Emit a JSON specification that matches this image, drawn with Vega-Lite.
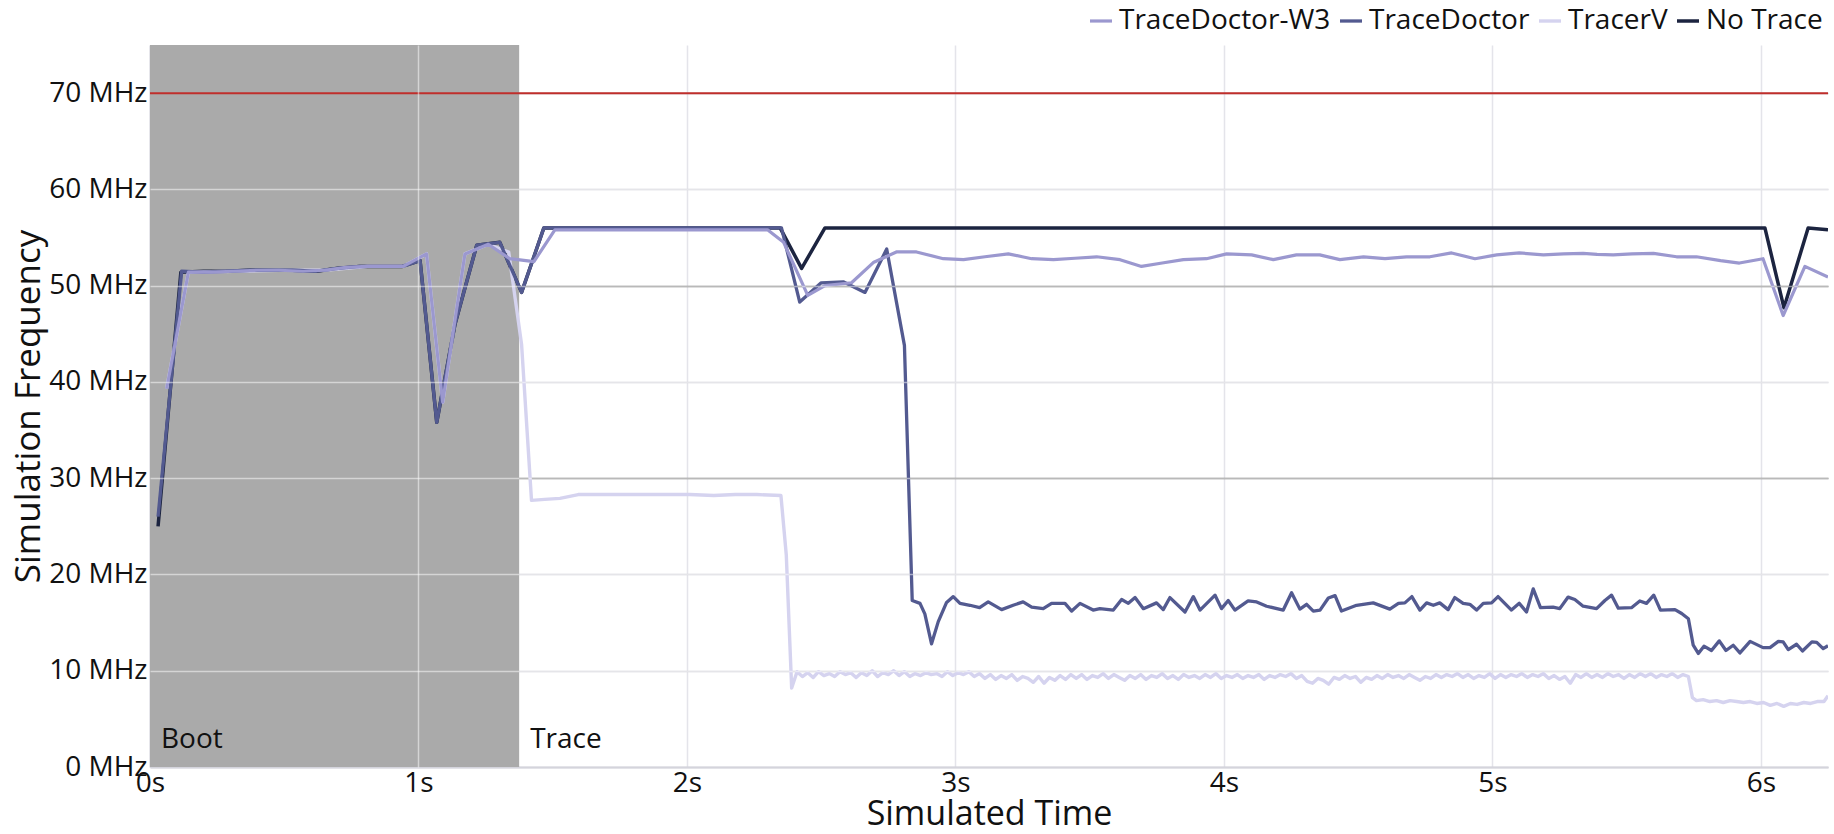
{
  "$schema": "https://vega.github.io/schema/vega-lite/v6.json",
  "width": 1678,
  "height": 722,
  "autosize": {"type": "none"},
  "padding": {"left": 150, "top": 45, "right": 6, "bottom": 67},
  "config": {
    "font": "Open Sans",
    "view": {"stroke": null},
    "axis": {"labelColor": "#111111", "titleColor": "#111111", "titleFontWeight": "normal"}
  },
  "datasets": {
    "phases": [
      {"phase": "Boot", "start": 0, "end": 1.375},
      {"phase": "Trace", "start": 1.375, "end": 6.25}
    ],
    "limit": [{"mhz": 70}],
    "freq": [
      {"series": "No Trace", "time": 0.03, "mhz": 25.0},
      {"series": "No Trace", "time": 0.115, "mhz": 51.4},
      {"series": "No Trace", "time": 0.2, "mhz": 51.5},
      {"series": "No Trace", "time": 0.28, "mhz": 51.5},
      {"series": "No Trace", "time": 0.37, "mhz": 51.6},
      {"series": "No Trace", "time": 0.45, "mhz": 51.6},
      {"series": "No Trace", "time": 0.53, "mhz": 51.6},
      {"series": "No Trace", "time": 0.62, "mhz": 51.5},
      {"series": "No Trace", "time": 0.70, "mhz": 51.8},
      {"series": "No Trace", "time": 0.78, "mhz": 52.0},
      {"series": "No Trace", "time": 0.86, "mhz": 52.0},
      {"series": "No Trace", "time": 0.94, "mhz": 52.0},
      {"series": "No Trace", "time": 1.006, "mhz": 52.6},
      {"series": "No Trace", "time": 1.068, "mhz": 35.8},
      {"series": "No Trace", "time": 1.136, "mhz": 46.0},
      {"series": "No Trace", "time": 1.217, "mhz": 54.2},
      {"series": "No Trace", "time": 1.303, "mhz": 54.5},
      {"series": "No Trace", "time": 1.384, "mhz": 49.3},
      {"series": "No Trace", "time": 1.467, "mhz": 56.0},
      {"series": "No Trace", "time": 1.55, "mhz": 56.0},
      {"series": "No Trace", "time": 1.72, "mhz": 56.0},
      {"series": "No Trace", "time": 1.97, "mhz": 56.0},
      {"series": "No Trace", "time": 2.22, "mhz": 56.0},
      {"series": "No Trace", "time": 2.347, "mhz": 56.0},
      {"series": "No Trace", "time": 2.427, "mhz": 51.8},
      {"series": "No Trace", "time": 2.514, "mhz": 56.0},
      {"series": "No Trace", "time": 2.9, "mhz": 56.0},
      {"series": "No Trace", "time": 3.3, "mhz": 56.0},
      {"series": "No Trace", "time": 3.7, "mhz": 56.0},
      {"series": "No Trace", "time": 4.1, "mhz": 56.0},
      {"series": "No Trace", "time": 4.5, "mhz": 56.0},
      {"series": "No Trace", "time": 4.9, "mhz": 56.0},
      {"series": "No Trace", "time": 5.3, "mhz": 56.0},
      {"series": "No Trace", "time": 5.7, "mhz": 56.0},
      {"series": "No Trace", "time": 6.015, "mhz": 56.0},
      {"series": "No Trace", "time": 6.086, "mhz": 47.7},
      {"series": "No Trace", "time": 6.176, "mhz": 56.0},
      {"series": "No Trace", "time": 6.25, "mhz": 55.8},

      {"series": "TracerV", "time": 0.062, "mhz": 39.3},
      {"series": "TracerV", "time": 0.143, "mhz": 51.4},
      {"series": "TracerV", "time": 0.31, "mhz": 51.5},
      {"series": "TracerV", "time": 0.48, "mhz": 51.6},
      {"series": "TracerV", "time": 0.65, "mhz": 51.6},
      {"series": "TracerV", "time": 0.81, "mhz": 52.0},
      {"series": "TracerV", "time": 0.943, "mhz": 52.0},
      {"series": "TracerV", "time": 1.03, "mhz": 53.3},
      {"series": "TracerV", "time": 1.09, "mhz": 37.9},
      {"series": "TracerV", "time": 1.173, "mhz": 53.3},
      {"series": "TracerV", "time": 1.26, "mhz": 54.3},
      {"series": "TracerV", "time": 1.336, "mhz": 53.5},
      {"series": "TracerV", "time": 1.384, "mhz": 43.9},
      {"series": "TracerV", "time": 1.421, "mhz": 27.7},
      {"series": "TracerV", "time": 1.47, "mhz": 27.8},
      {"series": "TracerV", "time": 1.527, "mhz": 27.9},
      {"series": "TracerV", "time": 1.595, "mhz": 28.3},
      {"series": "TracerV", "time": 1.68, "mhz": 28.3},
      {"series": "TracerV", "time": 1.76, "mhz": 28.3},
      {"series": "TracerV", "time": 1.85, "mhz": 28.3},
      {"series": "TracerV", "time": 1.93, "mhz": 28.3},
      {"series": "TracerV", "time": 2.01, "mhz": 28.3},
      {"series": "TracerV", "time": 2.10, "mhz": 28.2},
      {"series": "TracerV", "time": 2.18, "mhz": 28.3},
      {"series": "TracerV", "time": 2.26, "mhz": 28.3},
      {"series": "TracerV", "time": 2.35, "mhz": 28.2},
      {"series": "TracerV", "time": 2.37, "mhz": 22.0},
      {"series": "TracerV", "time": 2.39, "mhz": 8.2},
      {"series": "TracerV", "time": 2.41, "mhz": 9.9},
      {"series": "TracerV", "time": 2.43, "mhz": 9.4},
      {"series": "TracerV", "time": 2.45, "mhz": 9.8},
      {"series": "TracerV", "time": 2.47, "mhz": 9.3},
      {"series": "TracerV", "time": 2.49, "mhz": 9.9},
      {"series": "TracerV", "time": 2.51, "mhz": 9.5},
      {"series": "TracerV", "time": 2.53, "mhz": 9.7},
      {"series": "TracerV", "time": 2.55, "mhz": 9.4},
      {"series": "TracerV", "time": 2.57, "mhz": 9.9},
      {"series": "TracerV", "time": 2.59, "mhz": 9.6},
      {"series": "TracerV", "time": 2.61, "mhz": 9.8},
      {"series": "TracerV", "time": 2.63, "mhz": 9.3},
      {"series": "TracerV", "time": 2.65, "mhz": 9.8},
      {"series": "TracerV", "time": 2.67, "mhz": 9.5},
      {"series": "TracerV", "time": 2.69, "mhz": 10.0},
      {"series": "TracerV", "time": 2.71, "mhz": 9.4},
      {"series": "TracerV", "time": 2.73, "mhz": 9.8},
      {"series": "TracerV", "time": 2.75, "mhz": 9.6},
      {"series": "TracerV", "time": 2.77, "mhz": 10.0},
      {"series": "TracerV", "time": 2.79, "mhz": 9.5},
      {"series": "TracerV", "time": 2.81, "mhz": 9.9},
      {"series": "TracerV", "time": 2.83, "mhz": 9.4},
      {"series": "TracerV", "time": 2.85, "mhz": 9.7},
      {"series": "TracerV", "time": 2.87, "mhz": 9.5},
      {"series": "TracerV", "time": 2.89, "mhz": 9.8},
      {"series": "TracerV", "time": 2.91, "mhz": 9.6},
      {"series": "TracerV", "time": 2.93, "mhz": 9.7},
      {"series": "TracerV", "time": 2.95, "mhz": 9.4},
      {"series": "TracerV", "time": 2.97, "mhz": 9.9},
      {"series": "TracerV", "time": 2.99, "mhz": 9.5},
      {"series": "TracerV", "time": 3.01, "mhz": 9.8},
      {"series": "TracerV", "time": 3.03, "mhz": 9.6},
      {"series": "TracerV", "time": 3.05, "mhz": 9.9},
      {"series": "TracerV", "time": 3.07, "mhz": 9.4},
      {"series": "TracerV", "time": 3.09, "mhz": 9.7},
      {"series": "TracerV", "time": 3.11, "mhz": 9.2},
      {"series": "TracerV", "time": 3.13, "mhz": 9.6},
      {"series": "TracerV", "time": 3.15, "mhz": 9.1},
      {"series": "TracerV", "time": 3.17, "mhz": 9.5},
      {"series": "TracerV", "time": 3.19, "mhz": 9.2},
      {"series": "TracerV", "time": 3.21, "mhz": 9.6},
      {"series": "TracerV", "time": 3.23, "mhz": 9.0},
      {"series": "TracerV", "time": 3.25, "mhz": 9.4},
      {"series": "TracerV", "time": 3.27, "mhz": 9.2},
      {"series": "TracerV", "time": 3.29, "mhz": 8.8},
      {"series": "TracerV", "time": 3.31, "mhz": 9.4},
      {"series": "TracerV", "time": 3.33, "mhz": 8.7},
      {"series": "TracerV", "time": 3.35, "mhz": 9.3},
      {"series": "TracerV", "time": 3.37, "mhz": 9.0},
      {"series": "TracerV", "time": 3.39, "mhz": 9.5},
      {"series": "TracerV", "time": 3.41, "mhz": 9.1},
      {"series": "TracerV", "time": 3.43, "mhz": 9.6},
      {"series": "TracerV", "time": 3.45, "mhz": 9.2},
      {"series": "TracerV", "time": 3.47, "mhz": 9.6},
      {"series": "TracerV", "time": 3.49, "mhz": 9.1},
      {"series": "TracerV", "time": 3.51, "mhz": 9.5},
      {"series": "TracerV", "time": 3.53, "mhz": 9.3},
      {"series": "TracerV", "time": 3.55, "mhz": 9.7},
      {"series": "TracerV", "time": 3.57, "mhz": 9.2},
      {"series": "TracerV", "time": 3.59, "mhz": 9.6},
      {"series": "TracerV", "time": 3.61, "mhz": 9.3},
      {"series": "TracerV", "time": 3.63, "mhz": 9.0},
      {"series": "TracerV", "time": 3.65, "mhz": 9.5},
      {"series": "TracerV", "time": 3.67, "mhz": 9.2},
      {"series": "TracerV", "time": 3.69, "mhz": 9.6},
      {"series": "TracerV", "time": 3.71, "mhz": 9.1},
      {"series": "TracerV", "time": 3.73, "mhz": 9.5},
      {"series": "TracerV", "time": 3.75, "mhz": 9.3},
      {"series": "TracerV", "time": 3.77, "mhz": 9.7},
      {"series": "TracerV", "time": 3.79, "mhz": 9.2},
      {"series": "TracerV", "time": 3.81, "mhz": 9.5},
      {"series": "TracerV", "time": 3.83, "mhz": 9.1},
      {"series": "TracerV", "time": 3.85, "mhz": 9.6},
      {"series": "TracerV", "time": 3.87, "mhz": 9.3},
      {"series": "TracerV", "time": 3.89, "mhz": 9.5},
      {"series": "TracerV", "time": 3.91, "mhz": 9.2},
      {"series": "TracerV", "time": 3.93, "mhz": 9.6},
      {"series": "TracerV", "time": 3.95, "mhz": 9.3},
      {"series": "TracerV", "time": 3.97, "mhz": 9.7},
      {"series": "TracerV", "time": 3.99, "mhz": 9.2},
      {"series": "TracerV", "time": 4.01, "mhz": 9.5},
      {"series": "TracerV", "time": 4.03, "mhz": 9.3},
      {"series": "TracerV", "time": 4.05, "mhz": 9.6},
      {"series": "TracerV", "time": 4.07, "mhz": 9.2},
      {"series": "TracerV", "time": 4.09, "mhz": 9.5},
      {"series": "TracerV", "time": 4.11, "mhz": 9.3},
      {"series": "TracerV", "time": 4.13, "mhz": 9.6},
      {"series": "TracerV", "time": 4.15, "mhz": 9.1},
      {"series": "TracerV", "time": 4.17, "mhz": 9.5},
      {"series": "TracerV", "time": 4.19, "mhz": 9.3},
      {"series": "TracerV", "time": 4.21, "mhz": 9.6},
      {"series": "TracerV", "time": 4.23, "mhz": 9.4},
      {"series": "TracerV", "time": 4.25, "mhz": 9.7},
      {"series": "TracerV", "time": 4.27, "mhz": 9.2},
      {"series": "TracerV", "time": 4.29, "mhz": 9.5},
      {"series": "TracerV", "time": 4.31, "mhz": 8.9},
      {"series": "TracerV", "time": 4.33, "mhz": 8.7},
      {"series": "TracerV", "time": 4.35, "mhz": 9.2},
      {"series": "TracerV", "time": 4.37, "mhz": 9.0},
      {"series": "TracerV", "time": 4.39, "mhz": 8.6},
      {"series": "TracerV", "time": 4.41, "mhz": 9.3},
      {"series": "TracerV", "time": 4.43, "mhz": 9.1},
      {"series": "TracerV", "time": 4.45, "mhz": 9.5},
      {"series": "TracerV", "time": 4.47, "mhz": 9.2},
      {"series": "TracerV", "time": 4.49, "mhz": 9.4},
      {"series": "TracerV", "time": 4.51, "mhz": 8.8},
      {"series": "TracerV", "time": 4.53, "mhz": 9.3},
      {"series": "TracerV", "time": 4.55, "mhz": 9.1},
      {"series": "TracerV", "time": 4.57, "mhz": 9.5},
      {"series": "TracerV", "time": 4.59, "mhz": 9.2},
      {"series": "TracerV", "time": 4.61, "mhz": 9.6},
      {"series": "TracerV", "time": 4.63, "mhz": 9.3},
      {"series": "TracerV", "time": 4.65, "mhz": 9.5},
      {"series": "TracerV", "time": 4.67, "mhz": 9.2},
      {"series": "TracerV", "time": 4.69, "mhz": 9.6},
      {"series": "TracerV", "time": 4.71, "mhz": 9.3},
      {"series": "TracerV", "time": 4.73, "mhz": 9.0},
      {"series": "TracerV", "time": 4.75, "mhz": 9.4},
      {"series": "TracerV", "time": 4.77, "mhz": 9.2},
      {"series": "TracerV", "time": 4.79, "mhz": 9.6},
      {"series": "TracerV", "time": 4.81, "mhz": 9.3},
      {"series": "TracerV", "time": 4.83, "mhz": 9.6},
      {"series": "TracerV", "time": 4.85, "mhz": 9.4},
      {"series": "TracerV", "time": 4.87, "mhz": 9.7},
      {"series": "TracerV", "time": 4.89, "mhz": 9.3},
      {"series": "TracerV", "time": 4.91, "mhz": 9.6},
      {"series": "TracerV", "time": 4.93, "mhz": 9.2},
      {"series": "TracerV", "time": 4.95, "mhz": 9.5},
      {"series": "TracerV", "time": 4.97, "mhz": 9.3},
      {"series": "TracerV", "time": 4.99, "mhz": 9.7},
      {"series": "TracerV", "time": 5.01, "mhz": 9.2},
      {"series": "TracerV", "time": 5.03, "mhz": 9.6},
      {"series": "TracerV", "time": 5.05, "mhz": 9.3},
      {"series": "TracerV", "time": 5.07, "mhz": 9.6},
      {"series": "TracerV", "time": 5.09, "mhz": 9.4},
      {"series": "TracerV", "time": 5.11, "mhz": 9.7},
      {"series": "TracerV", "time": 5.13, "mhz": 9.3},
      {"series": "TracerV", "time": 5.15, "mhz": 9.6},
      {"series": "TracerV", "time": 5.17, "mhz": 9.4},
      {"series": "TracerV", "time": 5.19, "mhz": 9.7},
      {"series": "TracerV", "time": 5.21, "mhz": 9.2},
      {"series": "TracerV", "time": 5.23, "mhz": 9.5},
      {"series": "TracerV", "time": 5.25, "mhz": 9.1},
      {"series": "TracerV", "time": 5.27, "mhz": 9.4},
      {"series": "TracerV", "time": 5.29, "mhz": 8.7},
      {"series": "TracerV", "time": 5.31, "mhz": 9.6},
      {"series": "TracerV", "time": 5.33, "mhz": 9.3},
      {"series": "TracerV", "time": 5.35, "mhz": 9.7},
      {"series": "TracerV", "time": 5.37, "mhz": 9.3},
      {"series": "TracerV", "time": 5.39, "mhz": 9.6},
      {"series": "TracerV", "time": 5.41, "mhz": 9.3},
      {"series": "TracerV", "time": 5.43, "mhz": 9.7},
      {"series": "TracerV", "time": 5.45, "mhz": 9.4},
      {"series": "TracerV", "time": 5.47, "mhz": 9.6},
      {"series": "TracerV", "time": 5.49, "mhz": 9.2},
      {"series": "TracerV", "time": 5.51, "mhz": 9.6},
      {"series": "TracerV", "time": 5.53, "mhz": 9.3},
      {"series": "TracerV", "time": 5.55, "mhz": 9.7},
      {"series": "TracerV", "time": 5.57, "mhz": 9.4},
      {"series": "TracerV", "time": 5.59, "mhz": 9.7},
      {"series": "TracerV", "time": 5.61, "mhz": 9.3},
      {"series": "TracerV", "time": 5.63, "mhz": 9.6},
      {"series": "TracerV", "time": 5.65, "mhz": 9.4},
      {"series": "TracerV", "time": 5.67, "mhz": 9.7},
      {"series": "TracerV", "time": 5.69, "mhz": 9.3},
      {"series": "TracerV", "time": 5.71, "mhz": 9.6},
      {"series": "TracerV", "time": 5.73, "mhz": 9.4},
      {"series": "TracerV", "time": 5.745, "mhz": 7.2},
      {"series": "TracerV", "time": 5.76, "mhz": 6.9},
      {"series": "TracerV", "time": 5.785, "mhz": 7.0},
      {"series": "TracerV", "time": 5.81, "mhz": 6.8},
      {"series": "TracerV", "time": 5.835, "mhz": 6.9},
      {"series": "TracerV", "time": 5.86, "mhz": 6.7},
      {"series": "TracerV", "time": 5.885, "mhz": 6.9},
      {"series": "TracerV", "time": 5.91, "mhz": 6.8},
      {"series": "TracerV", "time": 5.935, "mhz": 6.7},
      {"series": "TracerV", "time": 5.96, "mhz": 6.8},
      {"series": "TracerV", "time": 5.985, "mhz": 6.6},
      {"series": "TracerV", "time": 6.01, "mhz": 6.7},
      {"series": "TracerV", "time": 6.035, "mhz": 6.4},
      {"series": "TracerV", "time": 6.06, "mhz": 6.6},
      {"series": "TracerV", "time": 6.085, "mhz": 6.3},
      {"series": "TracerV", "time": 6.11, "mhz": 6.6},
      {"series": "TracerV", "time": 6.135, "mhz": 6.5},
      {"series": "TracerV", "time": 6.16, "mhz": 6.7},
      {"series": "TracerV", "time": 6.185, "mhz": 6.6},
      {"series": "TracerV", "time": 6.21, "mhz": 6.8},
      {"series": "TracerV", "time": 6.235, "mhz": 6.8},
      {"series": "TracerV", "time": 6.25, "mhz": 7.4},

      {"series": "TraceDoctor", "time": 0.03, "mhz": 26.0},
      {"series": "TraceDoctor", "time": 0.118, "mhz": 51.5},
      {"series": "TraceDoctor", "time": 0.2, "mhz": 51.4},
      {"series": "TraceDoctor", "time": 0.29, "mhz": 51.5},
      {"series": "TraceDoctor", "time": 0.37, "mhz": 51.6},
      {"series": "TraceDoctor", "time": 0.45, "mhz": 51.6},
      {"series": "TraceDoctor", "time": 0.53, "mhz": 51.6},
      {"series": "TraceDoctor", "time": 0.62, "mhz": 51.5},
      {"series": "TraceDoctor", "time": 0.70, "mhz": 51.8},
      {"series": "TraceDoctor", "time": 0.78, "mhz": 52.0},
      {"series": "TraceDoctor", "time": 0.86, "mhz": 52.0},
      {"series": "TraceDoctor", "time": 0.94, "mhz": 52.0},
      {"series": "TraceDoctor", "time": 1.006, "mhz": 52.6},
      {"series": "TraceDoctor", "time": 1.068, "mhz": 35.8},
      {"series": "TraceDoctor", "time": 1.136, "mhz": 46.0},
      {"series": "TraceDoctor", "time": 1.217, "mhz": 54.2},
      {"series": "TraceDoctor", "time": 1.303, "mhz": 54.5},
      {"series": "TraceDoctor", "time": 1.384, "mhz": 49.3},
      {"series": "TraceDoctor", "time": 1.467, "mhz": 56.0},
      {"series": "TraceDoctor", "time": 1.55, "mhz": 56.0},
      {"series": "TraceDoctor", "time": 1.72, "mhz": 56.0},
      {"series": "TraceDoctor", "time": 1.97, "mhz": 56.0},
      {"series": "TraceDoctor", "time": 2.22, "mhz": 56.0},
      {"series": "TraceDoctor", "time": 2.352, "mhz": 56.0},
      {"series": "TraceDoctor", "time": 2.42, "mhz": 48.3},
      {"series": "TraceDoctor", "time": 2.50, "mhz": 50.3},
      {"series": "TraceDoctor", "time": 2.582, "mhz": 50.4},
      {"series": "TraceDoctor", "time": 2.663, "mhz": 49.3},
      {"series": "TraceDoctor", "time": 2.744, "mhz": 53.8},
      {"series": "TraceDoctor", "time": 2.81, "mhz": 43.8},
      {"series": "TraceDoctor", "time": 2.839, "mhz": 17.3},
      {"series": "TraceDoctor", "time": 2.868, "mhz": 17.0},
      {"series": "TraceDoctor", "time": 2.886, "mhz": 15.9},
      {"series": "TraceDoctor", "time": 2.911, "mhz": 12.8},
      {"series": "TraceDoctor", "time": 2.936, "mhz": 15.1},
      {"series": "TraceDoctor", "time": 2.967, "mhz": 17.1},
      {"series": "TraceDoctor", "time": 2.992, "mhz": 17.7},
      {"series": "TraceDoctor", "time": 3.017, "mhz": 17.0},
      {"series": "TraceDoctor", "time": 3.054, "mhz": 16.8},
      {"series": "TraceDoctor", "time": 3.09, "mhz": 16.55},
      {"series": "TraceDoctor", "time": 3.122, "mhz": 17.15},
      {"series": "TraceDoctor", "time": 3.172, "mhz": 16.35},
      {"series": "TraceDoctor", "time": 3.215, "mhz": 16.8},
      {"series": "TraceDoctor", "time": 3.252, "mhz": 17.15},
      {"series": "TraceDoctor", "time": 3.284, "mhz": 16.6},
      {"series": "TraceDoctor", "time": 3.327, "mhz": 16.45},
      {"series": "TraceDoctor", "time": 3.358, "mhz": 17.0},
      {"series": "TraceDoctor", "time": 3.408, "mhz": 17.0},
      {"series": "TraceDoctor", "time": 3.433, "mhz": 16.2},
      {"series": "TraceDoctor", "time": 3.464, "mhz": 17.0},
      {"series": "TraceDoctor", "time": 3.513, "mhz": 16.3},
      {"series": "TraceDoctor", "time": 3.538, "mhz": 16.45},
      {"series": "TraceDoctor", "time": 3.588, "mhz": 16.3},
      {"series": "TraceDoctor", "time": 3.619, "mhz": 17.4},
      {"series": "TraceDoctor", "time": 3.644, "mhz": 17.0},
      {"series": "TraceDoctor", "time": 3.669, "mhz": 17.6},
      {"series": "TraceDoctor", "time": 3.70, "mhz": 16.45},
      {"series": "TraceDoctor", "time": 3.749, "mhz": 17.05},
      {"series": "TraceDoctor", "time": 3.774, "mhz": 16.35},
      {"series": "TraceDoctor", "time": 3.799, "mhz": 17.6},
      {"series": "TraceDoctor", "time": 3.855, "mhz": 16.1},
      {"series": "TraceDoctor", "time": 3.886, "mhz": 17.7},
      {"series": "TraceDoctor", "time": 3.911, "mhz": 16.3},
      {"series": "TraceDoctor", "time": 3.967, "mhz": 17.85},
      {"series": "TraceDoctor", "time": 3.991, "mhz": 16.45},
      {"series": "TraceDoctor", "time": 4.016, "mhz": 17.3},
      {"series": "TraceDoctor", "time": 4.041, "mhz": 16.3},
      {"series": "TraceDoctor", "time": 4.09, "mhz": 17.25},
      {"series": "TraceDoctor", "time": 4.122, "mhz": 17.15},
      {"series": "TraceDoctor", "time": 4.159, "mhz": 16.7},
      {"series": "TraceDoctor", "time": 4.221, "mhz": 16.3},
      {"series": "TraceDoctor", "time": 4.252, "mhz": 18.1},
      {"series": "TraceDoctor", "time": 4.283, "mhz": 16.4},
      {"series": "TraceDoctor", "time": 4.308, "mhz": 16.9},
      {"series": "TraceDoctor", "time": 4.333, "mhz": 16.2},
      {"series": "TraceDoctor", "time": 4.358, "mhz": 16.3},
      {"series": "TraceDoctor", "time": 4.389, "mhz": 17.55},
      {"series": "TraceDoctor", "time": 4.414, "mhz": 17.8},
      {"series": "TraceDoctor", "time": 4.438, "mhz": 16.2},
      {"series": "TraceDoctor", "time": 4.494, "mhz": 16.8},
      {"series": "TraceDoctor", "time": 4.556, "mhz": 17.05},
      {"series": "TraceDoctor", "time": 4.618, "mhz": 16.4},
      {"series": "TraceDoctor", "time": 4.65, "mhz": 17.0},
      {"series": "TraceDoctor", "time": 4.674, "mhz": 17.05},
      {"series": "TraceDoctor", "time": 4.70, "mhz": 17.7},
      {"series": "TraceDoctor", "time": 4.73, "mhz": 16.3},
      {"series": "TraceDoctor", "time": 4.755, "mhz": 17.05},
      {"series": "TraceDoctor", "time": 4.78, "mhz": 16.8},
      {"series": "TraceDoctor", "time": 4.804, "mhz": 17.05},
      {"series": "TraceDoctor", "time": 4.835, "mhz": 16.35},
      {"series": "TraceDoctor", "time": 4.86, "mhz": 17.6},
      {"series": "TraceDoctor", "time": 4.891, "mhz": 17.0},
      {"series": "TraceDoctor", "time": 4.916, "mhz": 16.9},
      {"series": "TraceDoctor", "time": 4.941, "mhz": 16.3},
      {"series": "TraceDoctor", "time": 4.966, "mhz": 17.0},
      {"series": "TraceDoctor", "time": 4.997, "mhz": 17.05},
      {"series": "TraceDoctor", "time": 5.021, "mhz": 17.7},
      {"series": "TraceDoctor", "time": 5.071, "mhz": 16.3},
      {"series": "TraceDoctor", "time": 5.10, "mhz": 17.0},
      {"series": "TraceDoctor", "time": 5.127, "mhz": 16.1},
      {"series": "TraceDoctor", "time": 5.152, "mhz": 18.5},
      {"series": "TraceDoctor", "time": 5.179, "mhz": 16.55},
      {"series": "TraceDoctor", "time": 5.226, "mhz": 16.6},
      {"series": "TraceDoctor", "time": 5.251, "mhz": 16.45},
      {"series": "TraceDoctor", "time": 5.282, "mhz": 17.65},
      {"series": "TraceDoctor", "time": 5.307, "mhz": 17.4},
      {"series": "TraceDoctor", "time": 5.338, "mhz": 16.7},
      {"series": "TraceDoctor", "time": 5.388, "mhz": 16.45},
      {"series": "TraceDoctor", "time": 5.419, "mhz": 17.3},
      {"series": "TraceDoctor", "time": 5.444, "mhz": 17.85},
      {"series": "TraceDoctor", "time": 5.469, "mhz": 16.5},
      {"series": "TraceDoctor", "time": 5.518, "mhz": 16.55},
      {"series": "TraceDoctor", "time": 5.549, "mhz": 17.25},
      {"series": "TraceDoctor", "time": 5.574, "mhz": 17.0},
      {"series": "TraceDoctor", "time": 5.601, "mhz": 17.85},
      {"series": "TraceDoctor", "time": 5.626, "mhz": 16.3},
      {"series": "TraceDoctor", "time": 5.68, "mhz": 16.35},
      {"series": "TraceDoctor", "time": 5.705, "mhz": 15.95},
      {"series": "TraceDoctor", "time": 5.73, "mhz": 15.4},
      {"series": "TraceDoctor", "time": 5.748, "mhz": 12.65},
      {"series": "TraceDoctor", "time": 5.767, "mhz": 11.8},
      {"series": "TraceDoctor", "time": 5.788, "mhz": 12.55},
      {"series": "TraceDoctor", "time": 5.816, "mhz": 12.1},
      {"series": "TraceDoctor", "time": 5.845, "mhz": 13.1},
      {"series": "TraceDoctor", "time": 5.87, "mhz": 12.1},
      {"series": "TraceDoctor", "time": 5.897, "mhz": 12.65},
      {"series": "TraceDoctor", "time": 5.922, "mhz": 11.85},
      {"series": "TraceDoctor", "time": 5.96, "mhz": 13.05},
      {"series": "TraceDoctor", "time": 6.008, "mhz": 12.4},
      {"series": "TraceDoctor", "time": 6.034, "mhz": 12.4},
      {"series": "TraceDoctor", "time": 6.065, "mhz": 13.05},
      {"series": "TraceDoctor", "time": 6.083, "mhz": 13.0},
      {"series": "TraceDoctor", "time": 6.102, "mhz": 12.2},
      {"series": "TraceDoctor", "time": 6.133, "mhz": 12.75},
      {"series": "TraceDoctor", "time": 6.155, "mhz": 12.05},
      {"series": "TraceDoctor", "time": 6.19, "mhz": 13.0},
      {"series": "TraceDoctor", "time": 6.208, "mhz": 12.95},
      {"series": "TraceDoctor", "time": 6.232, "mhz": 12.3},
      {"series": "TraceDoctor", "time": 6.25, "mhz": 12.6},

      {"series": "TraceDoctor-W3", "time": 0.062, "mhz": 39.3},
      {"series": "TraceDoctor-W3", "time": 0.143, "mhz": 51.4},
      {"series": "TraceDoctor-W3", "time": 0.23, "mhz": 51.4},
      {"series": "TraceDoctor-W3", "time": 0.31, "mhz": 51.5},
      {"series": "TraceDoctor-W3", "time": 0.40, "mhz": 51.6},
      {"series": "TraceDoctor-W3", "time": 0.48, "mhz": 51.6},
      {"series": "TraceDoctor-W3", "time": 0.57, "mhz": 51.5},
      {"series": "TraceDoctor-W3", "time": 0.65, "mhz": 51.6},
      {"series": "TraceDoctor-W3", "time": 0.73, "mhz": 51.9},
      {"series": "TraceDoctor-W3", "time": 0.81, "mhz": 52.0},
      {"series": "TraceDoctor-W3", "time": 0.89, "mhz": 52.0},
      {"series": "TraceDoctor-W3", "time": 0.943, "mhz": 52.0},
      {"series": "TraceDoctor-W3", "time": 1.03, "mhz": 53.3},
      {"series": "TraceDoctor-W3", "time": 1.09, "mhz": 37.9},
      {"series": "TraceDoctor-W3", "time": 1.173, "mhz": 53.3},
      {"series": "TraceDoctor-W3", "time": 1.26, "mhz": 54.3},
      {"series": "TraceDoctor-W3", "time": 1.34, "mhz": 52.8},
      {"series": "TraceDoctor-W3", "time": 1.43, "mhz": 52.5},
      {"series": "TraceDoctor-W3", "time": 1.508, "mhz": 55.8},
      {"series": "TraceDoctor-W3", "time": 1.76, "mhz": 55.8},
      {"series": "TraceDoctor-W3", "time": 2.03, "mhz": 55.8},
      {"series": "TraceDoctor-W3", "time": 2.30, "mhz": 55.8},
      {"series": "TraceDoctor-W3", "time": 2.36, "mhz": 54.5},
      {"series": "TraceDoctor-W3", "time": 2.45, "mhz": 49.0},
      {"series": "TraceDoctor-W3", "time": 2.514, "mhz": 50.0},
      {"series": "TraceDoctor-W3", "time": 2.613, "mhz": 50.3},
      {"series": "TraceDoctor-W3", "time": 2.694, "mhz": 52.4},
      {"series": "TraceDoctor-W3", "time": 2.78, "mhz": 53.5},
      {"series": "TraceDoctor-W3", "time": 2.855, "mhz": 53.5},
      {"series": "TraceDoctor-W3", "time": 2.955, "mhz": 52.8},
      {"series": "TraceDoctor-W3", "time": 3.03, "mhz": 52.7},
      {"series": "TraceDoctor-W3", "time": 3.11, "mhz": 53.0},
      {"series": "TraceDoctor-W3", "time": 3.197, "mhz": 53.3},
      {"series": "TraceDoctor-W3", "time": 3.284, "mhz": 52.8},
      {"series": "TraceDoctor-W3", "time": 3.365, "mhz": 52.7},
      {"series": "TraceDoctor-W3", "time": 3.445, "mhz": 52.85},
      {"series": "TraceDoctor-W3", "time": 3.526, "mhz": 53.0},
      {"series": "TraceDoctor-W3", "time": 3.613, "mhz": 52.7},
      {"series": "TraceDoctor-W3", "time": 3.693, "mhz": 52.0},
      {"series": "TraceDoctor-W3", "time": 3.77, "mhz": 52.35},
      {"series": "TraceDoctor-W3", "time": 3.849, "mhz": 52.7},
      {"series": "TraceDoctor-W3", "time": 3.935, "mhz": 52.8},
      {"series": "TraceDoctor-W3", "time": 4.01, "mhz": 53.3},
      {"series": "TraceDoctor-W3", "time": 4.103, "mhz": 53.2},
      {"series": "TraceDoctor-W3", "time": 4.184, "mhz": 52.7},
      {"series": "TraceDoctor-W3", "time": 4.27, "mhz": 53.2},
      {"series": "TraceDoctor-W3", "time": 4.357, "mhz": 53.2},
      {"series": "TraceDoctor-W3", "time": 4.432, "mhz": 52.7},
      {"series": "TraceDoctor-W3", "time": 4.52, "mhz": 53.0},
      {"series": "TraceDoctor-W3", "time": 4.6, "mhz": 52.8},
      {"series": "TraceDoctor-W3", "time": 4.68, "mhz": 53.0},
      {"series": "TraceDoctor-W3", "time": 4.767, "mhz": 53.0},
      {"series": "TraceDoctor-W3", "time": 4.848, "mhz": 53.4},
      {"series": "TraceDoctor-W3", "time": 4.935, "mhz": 52.8},
      {"series": "TraceDoctor-W3", "time": 5.016, "mhz": 53.2},
      {"series": "TraceDoctor-W3", "time": 5.10, "mhz": 53.4},
      {"series": "TraceDoctor-W3", "time": 5.19, "mhz": 53.2},
      {"series": "TraceDoctor-W3", "time": 5.265, "mhz": 53.3},
      {"series": "TraceDoctor-W3", "time": 5.338, "mhz": 53.35},
      {"series": "TraceDoctor-W3", "time": 5.39, "mhz": 53.25},
      {"series": "TraceDoctor-W3", "time": 5.45, "mhz": 53.2},
      {"series": "TraceDoctor-W3", "time": 5.52, "mhz": 53.3},
      {"series": "TraceDoctor-W3", "time": 5.6, "mhz": 53.35},
      {"series": "TraceDoctor-W3", "time": 5.686, "mhz": 53.0},
      {"series": "TraceDoctor-W3", "time": 5.76, "mhz": 53.0},
      {"series": "TraceDoctor-W3", "time": 5.85, "mhz": 52.6},
      {"series": "TraceDoctor-W3", "time": 5.92, "mhz": 52.35},
      {"series": "TraceDoctor-W3", "time": 6.008, "mhz": 52.8},
      {"series": "TraceDoctor-W3", "time": 6.083, "mhz": 46.9},
      {"series": "TraceDoctor-W3", "time": 6.164, "mhz": 52.0},
      {"series": "TraceDoctor-W3", "time": 6.25, "mhz": 50.9}
    ]
  },
  "resolve": {"axis": {"x": "independent", "y": "independent"}},
  "layer": [
    {
      "data": {"name": "phases"},
      "transform": [{"filter": "datum.phase === 'Boot'"}],
      "mark": {"type": "rect", "color": "#aaaaaa"},
      "encoding": {
        "x": {
          "field": "start", "type": "quantitative",
          "scale": {"domain": [0, 6.25], "nice": false, "zero": false},
          "axis": {"orient": "top", "values": [1], "grid": true, "gridColor": "#ffffff", "gridOpacity": 0.5, "gridWidth": 1.5,
                   "labels": false, "ticks": false, "domain": false, "title": null, "zindex": 1}
        },
        "x2": {"field": "end"},
        "y": {
          "datum": 0, "type": "quantitative",
          "scale": {"domain": [0, 75], "nice": false},
          "axis": {"orient": "right", "values": [10, 20, 30, 40, 50, 60], "grid": true, "gridColor": "#ffffff", "gridOpacity": 0.5, "gridWidth": 1.5,
                   "labels": false, "ticks": false, "domain": false, "title": null, "zindex": 1}
        },
        "y2": {"datum": 75}
      }
    },
    {
      "data": {"name": "limit"},
      "mark": {"type": "rule", "color": "#bf2e2b", "strokeWidth": 2},
      "encoding": {"y": {"field": "mhz", "type": "quantitative", "axis": null}}
    },
    {
      "data": {"name": "phases"},
      "mark": {"type": "text", "align": "left", "baseline": "alphabetic", "dx": 11, "dy": -19, "fontSize": 28, "color": "#111111"},
      "encoding": {
        "x": {"field": "start", "type": "quantitative", "axis": null},
        "y": {"datum": 0, "type": "quantitative", "axis": null},
        "text": {"field": "phase"}
      }
    },
    {
      "data": {"name": "freq"},
      "mark": {"type": "line", "clip": true, "strokeJoin": "round"},
      "encoding": {
        "x": {
          "field": "time", "type": "quantitative",
          "scale": {"domain": [0, 6.25], "nice": false, "zero": false},
          "axis": {
            "orient": "bottom", "values": [0, 1, 2, 3, 4, 5, 6], "labelExpr": "datum.value + 's'",
            "labelFontSize": 28, "labelFlush": false, "labelOverlap": false, "labelPadding": 2, "ticks": false,
            "domain": true, "domainColor": "#d4d4dc", "domainWidth": 2,
            "grid": true, "gridColor": "#e4e4ea", "gridWidth": 1.5,
            "title": "Simulated Time", "titleFontSize": 34, "titlePadding": 0
          }
        },
        "y": {
          "field": "mhz", "type": "quantitative",
          "scale": {"domain": [0, 75], "nice": false},
          "axis": {
            "orient": "left", "values": [0, 10, 20, 30, 40, 50, 60, 70], "labelExpr": "datum.value + ' MHz'",
            "labelFontSize": 28, "labelPadding": 3, "ticks": false,
            "domain": true, "domainColor": "#d4d4dc", "domainWidth": 2,
            "grid": true, "gridWidth": 1.5,
            "gridColor": {"condition": {"test": "datum.value === 30 || datum.value === 50", "value": "#727272"}, "value": "#cacad2"},
            "title": "Simulation Frequency", "titleFontSize": 35, "titlePadding": 2
          }
        },
        "color": {
          "field": "series", "type": "nominal",
          "scale": {
            "domain": ["TraceDoctor-W3", "TraceDoctor", "TracerV", "No Trace"],
            "range": ["#9b98cf", "#535a90", "#d5d3ef", "#1c2440"]
          },
          "legend": {
            "orient": "none", "direction": "horizontal", "legendX": 937, "legendY": -38,
            "title": null, "symbolType": "stroke", "symbolSize": 484, "symbolStrokeWidth": 4,
            "labelFontSize": 28, "labelLimit": 400, "labelColor": "#111111", "labelOffset": 4, "columnPadding": 2
          }
        },
        "strokeWidth": {
          "field": "series", "type": "nominal",
          "scale": {"domain": ["TraceDoctor-W3", "TraceDoctor", "TracerV", "No Trace"], "range": [3.2, 3.5, 3, 4]},
          "legend": null
        }
      }
    }
  ]
}
